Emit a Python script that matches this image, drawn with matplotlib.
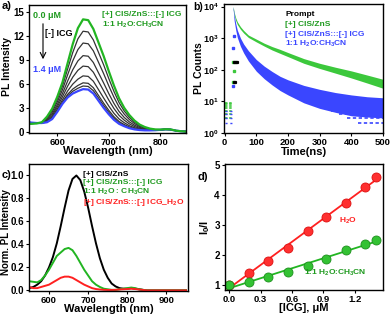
import numpy as np
import matplotlib
matplotlib.use('Agg')
import matplotlib.pyplot as plt

plt.rcParams['font.family'] = ['Liberation Sans', 'DejaVu Sans']
plt.rcParams['font.weight'] = 'bold'
plt.rcParams['axes.labelweight'] = 'bold'
plt.rcParams['mathtext.default'] = 'regular'
plt.rcParams['axes.linewidth'] = 1.0
plt.rcParams['xtick.major.size'] = 2.5
plt.rcParams['ytick.major.size'] = 2.5
plt.rcParams['xtick.major.pad'] = 1
plt.rcParams['ytick.major.pad'] = 1.2
plt.rcParams['xtick.labelsize'] = 6.8
plt.rcParams['ytick.labelsize'] = 7

# ---- panel a: PL titration, 1:1 H2O:CH3CN ----
wl_a = [545, 550, 560, 570, 580, 590, 600, 610, 620, 630, 640, 650, 660, 670, 680, 690,
        700, 710, 720, 730, 740, 750, 760, 770, 780, 790, 800, 810, 820, 830, 840, 850]
pl_0_0 = [1.0, 1.0, 1.05, 1.2, 1.9, 2.9, 4.4, 6.2, 8.6, 11.0, 13.0, 14.1, 14.0, 12.9, 11.2, 9.5,
          7.6, 5.8, 4.2, 3.0, 2.1, 1.4, 0.9, 0.6, 0.4, 0.3, 0.28, 0.32, 0.3, 0.15, 0.07, 0.03]
pl_mid = [
    [1.03, 1.03, 1.06, 1.18, 1.78, 2.68, 4.08, 5.74, 7.87, 9.95, 11.66, 12.61, 12.52, 11.52, 9.96, 8.4,
     6.68, 5.07, 3.66, 2.61, 1.82, 1.21, 0.78, 0.53, 0.36, 0.28, 0.27, 0.32, 0.3, 0.15, 0.07, 0.03],
    [1.07, 1.05, 1.07, 1.17, 1.66, 2.46, 3.75, 5.28, 7.14, 8.89, 10.31, 11.13, 11.04, 10.15, 8.72, 7.29,
     5.76, 4.34, 3.11, 2.22, 1.54, 1.03, 0.67, 0.46, 0.33, 0.27, 0.27, 0.31, 0.29, 0.15, 0.07, 0.03],
    [1.1, 1.08, 1.08, 1.15, 1.54, 2.22, 3.41, 4.8, 6.36, 7.78, 8.89, 9.55, 9.48, 8.69, 7.4, 6.12,
     4.79, 3.56, 2.54, 1.8, 1.24, 0.83, 0.55, 0.38, 0.29, 0.25, 0.26, 0.31, 0.29, 0.15, 0.07, 0.03],
    [1.13, 1.1, 1.08, 1.13, 1.43, 2.03, 3.13, 4.39, 5.72, 6.85, 7.71, 8.24, 8.17, 7.47, 6.31, 5.15,
     3.98, 2.92, 2.06, 1.46, 0.99, 0.66, 0.44, 0.32, 0.25, 0.23, 0.26, 0.31, 0.29, 0.15, 0.07, 0.03],
    [1.16, 1.12, 1.09, 1.12, 1.33, 1.85, 2.86, 4.01, 5.12, 5.98, 6.6, 7.01, 6.95, 6.34, 5.29, 4.24,
     3.23, 2.32, 1.61, 1.14, 0.76, 0.51, 0.35, 0.26, 0.22, 0.22, 0.25, 0.3, 0.28, 0.15, 0.07, 0.03],
    [1.18, 1.14, 1.1, 1.11, 1.26, 1.72, 2.67, 3.74, 4.69, 5.36, 5.81, 6.14, 6.08, 5.53, 4.56, 3.59,
     2.69, 1.89, 1.29, 0.91, 0.6, 0.4, 0.28, 0.22, 0.2, 0.21, 0.25, 0.3, 0.28, 0.15, 0.07, 0.03],
    [1.19, 1.14, 1.1, 1.1, 1.23, 1.66, 2.59, 3.62, 4.49, 5.08, 5.46, 5.74, 5.69, 5.16, 4.23, 3.29,
     2.44, 1.69, 1.14, 0.8, 0.52, 0.35, 0.25, 0.2, 0.19, 0.2, 0.25, 0.3, 0.28, 0.15, 0.07, 0.03],
]
pl_1_4 = [1.2, 1.15, 1.1, 1.1, 1.2, 1.6, 2.5, 3.5, 4.3, 4.8, 5.1, 5.35, 5.3, 4.8, 3.9, 3.0,
          2.2, 1.5, 1.0, 0.7, 0.45, 0.3, 0.22, 0.18, 0.18, 0.2, 0.25, 0.3, 0.28, 0.15, 0.07, 0.03]

# ---- panel b: PL decay ----
t_b = [27, 30, 35, 40, 50, 60, 75, 100, 125, 150, 175, 200, 250, 300, 350, 400, 450, 500]
cis_hi = [10000, 6600, 4400, 3300, 2300, 1750, 1250, 930, 690, 540, 440, 350, 225, 160, 120, 92, 68, 50]
cis_lo = [8000, 5400, 3600, 2700, 1900, 1450, 1050, 760, 560, 420, 330, 260, 160, 110, 78, 55, 38, 26]
icg_hi = [10000, 5500, 2900, 1800, 1000, 650, 400, 210, 130, 88, 62, 48, 32, 24, 19, 16, 14, 13]
icg_lo = [8000, 3600, 1800, 1050, 550, 340, 190, 90, 52, 33, 22, 16, 9, 6, 4.5, 3.5, 3.2, 3]
icg_tail_levels = [2, 3, 4, 5, 6, 7]
icg_tail_start = [420, 385, 360, 335, 315, 300]
noise_green = [3, 4, 5, 6, 7, 8, 9]
noise_blue = [2, 3, 4, 5]
prompt_t = [30, 33, 36, 39, 30, 33]
prompt_c = [170, 170, 170, 170, 40, 40]
edge_t = [27, 27, 28]
edge_green = [170, 40, 90]
edge_blue = [500, 30, 1200]

# ---- panel c: normalized PL ----
wl_c = [549, 560, 570, 580, 590, 600, 610, 620, 630, 640, 650, 660, 670, 680, 690, 700,
        710, 720, 730, 740, 750, 760, 770, 780, 790, 800, 810, 820, 830, 850, 900, 950]
norm_cis = [0.02, 0.03, 0.05, 0.08, 0.13, 0.2, 0.29, 0.41, 0.56, 0.72, 0.87, 0.97, 1.0, 0.96, 0.86, 0.72,
            0.56, 0.41, 0.28, 0.18, 0.11, 0.06, 0.035, 0.02, 0.015, 0.015, 0.02, 0.015, 0.01, 0.0, 0.0, 0.0]
norm_icg = [0.08, 0.075, 0.07, 0.09, 0.13, 0.18, 0.24, 0.3, 0.33, 0.36, 0.37, 0.35, 0.3, 0.24, 0.18, 0.13,
            0.08, 0.05, 0.03, 0.015, 0.01, 0.005, 0.005, 0.01, 0.015, 0.02, 0.025, 0.02, 0.01, 0.0, 0.0, 0.0]
norm_icg_h2o = [0.03, 0.02, 0.02, 0.03, 0.04, 0.05, 0.07, 0.09, 0.11, 0.12, 0.12, 0.11, 0.09, 0.07, 0.05, 0.035,
                0.02, 0.012, 0.008, 0.005, 0.004, 0.004, 0.005, 0.008, 0.01, 0.012, 0.015, 0.012, 0.008, 0.0, 0.0, 0.0]

# ---- panel d: Stern-Volmer ----
icg_conc = [0.0, 0.19, 0.37, 0.56, 0.75, 0.93, 1.12, 1.3, 1.4]
i0_i_h2o = [1.0, 1.41, 1.79, 2.23, 2.79, 3.26, 3.72, 4.25, 4.61]
i0_i_mix = [1.0, 1.09, 1.28, 1.44, 1.64, 1.86, 2.16, 2.38, 2.49]

GREEN = '#1f9a1f'
LGREEN = '#3cc83c'
BLUE = '#3a46ff'
RED = '#ff2020'

W, H = 392, 319
fig = plt.figure(figsize=(W / 100, H / 100), dpi=100)


def box(l, t, r, b):
    return [l / W, 1 - b / H, (r - l) / W, (b - t) / H]


def ftext(x, y, s, **kw):
    kw.setdefault('va', 'center')
    kw.setdefault('fontweight', 'bold')
    fig.text(x / W, 1 - y / H, s, **kw)


# panel a
ax = fig.add_axes(box(29, 5, 186, 133))
for c in pl_mid:
    ax.plot(wl_a, c, color='#333333', lw=0.9)
ax.plot(wl_a, pl_1_4, color=BLUE, lw=1.6)
ax.plot(wl_a, pl_0_0, color='#22b522', lw=1.6)
ax.set_xlim(545, 850)
ax.set_ylim(-0.15, 15.9)
ax.set_xticks([600, 700, 800])
ax.set_yticks([0, 3, 6, 9, 12, 15])
ax.set_xlabel('Wavelength (nm)', fontsize=8)
ax.set_ylabel('PL Intensity', fontsize=7.5)
ax.xaxis.set_label_coords(0.5, -0.105)
ax.yaxis.set_label_coords(-0.108, 0.52)
ftext(2, 6, 'a)', fontsize=8)
ftext(33, 15, '0.0 μM', color=GREEN, fontsize=6.5)
ftext(33, 70, '1.4 μM', color=BLUE, fontsize=6.5)
ftext(45, 34, '[-] ICG', fontsize=6.5)
ax.annotate('', xy=(43 / W, 1 - 62 / H), xytext=(43 / W, 1 - 21 / H),
            xycoords='figure fraction', textcoords='figure fraction',
            arrowprops=dict(arrowstyle='->', lw=0.8, color='black'))
ftext(102, 14, '[+] CIS/ZnS:::[-] ICG', color=GREEN, fontsize=6)
ftext(102, 25, '1:1 H$_2$O:CH$_3$CN', color=GREEN, fontsize=6)

# panel b
ax = fig.add_axes(box(224, 4, 383, 133))
ax.set_yscale('log')
ax.fill_between(t_b, cis_lo, cis_hi, color=LGREEN, lw=0)
ax.fill_between(t_b, icg_lo, icg_hi, color=BLUE, lw=0)
for lev, t0 in zip(icg_tail_levels, icg_tail_start):
    ax.hlines(lev, t0, 500, colors=BLUE, lw=1.2, linestyles=(0, (2, 1.5)))
ax.hlines(noise_green, 2, 25, colors=LGREEN, lw=1.2, linestyles=(0, (1.5, 1)))
ax.hlines(noise_blue, 2, 25, colors=BLUE, lw=1.0, linestyles=(0, (1.5, 2)))
ax.plot(edge_t, edge_green, 's', color=LGREEN, ms=1.5)
ax.plot(edge_t, edge_blue, 's', color=BLUE, ms=1.5)
ax.plot(prompt_t, prompt_c, 's', color='black', ms=1.3)
ax.set_xlim(-2, 500)
ax.set_ylim(1, 1.2e4)
ax.set_xticks([0, 100, 200, 300, 400, 500])
ax.set_yticks([1, 10, 100, 1000, 10000])
ax.minorticks_off()
ax.tick_params(axis='y', labelsize=6.5)
ax.set_xlabel('Time(ns)', fontsize=8)
ax.set_ylabel('PL Counts', fontsize=7.5)
ax.xaxis.set_label_coords(0.5, -0.105)
ax.yaxis.set_label_coords(-0.125, 0.5)
ftext(193, 7, 'b)', fontsize=7.5)
ftext(285, 14, 'Prompt', fontsize=6)
ftext(285, 24, '[+] CIS/ZnS', color=GREEN, fontsize=6)
ftext(285, 34, '[+] CIS/ZnS:::[-] ICG', color=BLUE, fontsize=6)
ftext(285, 44, '1:1 H$_2$O:CH$_3$CN', color=BLUE, fontsize=6)

# panel c
ax = fig.add_axes(box(29, 164, 188, 291))
ax.plot(wl_c, norm_cis, color='black', lw=1.4)
ax.plot(wl_c, norm_icg, color='#22b522', lw=1.4)
ax.plot(wl_c, norm_icg_h2o, color=RED, lw=1.4)
ax.set_xlim(549, 955)
ax.set_ylim(-0.005, 1.1)
ax.set_xticks([600, 700, 800, 900])
ax.set_yticks([0.0, 0.2, 0.4, 0.6, 0.8, 1.0])
ax.set_yticklabels(['0.0', '0.2', '0.4', '0.6', '0.8', '1.0'])
ax.set_xlabel('Wavelength (nm)', fontsize=8)
ax.set_ylabel('Norm. PL Intensity', fontsize=7)
ax.xaxis.set_label_coords(0.5, -0.105)
ax.yaxis.set_label_coords(-0.115, 0.465)
ftext(2, 175, 'c)', fontsize=8)
ftext(83, 174, '[+] CIS/ZnS', fontsize=6)
ftext(83, 183, '[+] CIS/ZnS:::[-] ICG', color=GREEN, fontsize=6)
ftext(83, 192, '1:1 H$_2$O : CH$_3$CN', color=GREEN, fontsize=6)
ftext(83, 202, '[+] CIS/ZnS:::[-] ICG_H$_2$O', color=RED, fontsize=6)

# panel d
ax = fig.add_axes(box(225, 164, 383, 290))
x = np.array(icg_conc)
xx = np.array([0.0, max(icg_conc)])
p_h2o = np.polyfit(x, i0_i_h2o, 1)
p_mix = np.polyfit(x, i0_i_mix, 1)
ax.plot(xx, np.polyval(p_h2o, xx), color=RED, lw=1.3)
ax.plot(xx, np.polyval(p_mix, xx), color='#22b522', lw=1.3)
ax.plot(icg_conc, i0_i_h2o, 'o', color='#ff3030', mec='#dd1010', ms=6.5, mew=0.6)
ax.plot(icg_conc, i0_i_mix, 'o', color='#33c233', mec='#1e8f1e', ms=6.5, mew=0.6)
ax.set_xlim(-0.04, 1.47)
ax.set_ylim(0.83, 5.03)
ax.set_xticks([0.0, 0.3, 0.6, 0.9, 1.2])
ax.set_yticks([1, 2, 3, 4, 5])
ax.set_xlabel('[ICG], μM', fontsize=8)
ax.set_ylabel('I$_0$/I', fontsize=8)
ax.xaxis.set_label_coords(0.5, -0.105)
ax.yaxis.set_label_coords(-0.085, 0.5)
ftext(198, 177, 'd)', fontsize=8)
ftext(339, 221, 'H$_2$O', color=RED, fontsize=6)
ftext(304, 273, '1:1 H$_2$O:CH$_3$CN', color=GREEN, fontsize=6)

fig.savefig('out.png', dpi=100)
